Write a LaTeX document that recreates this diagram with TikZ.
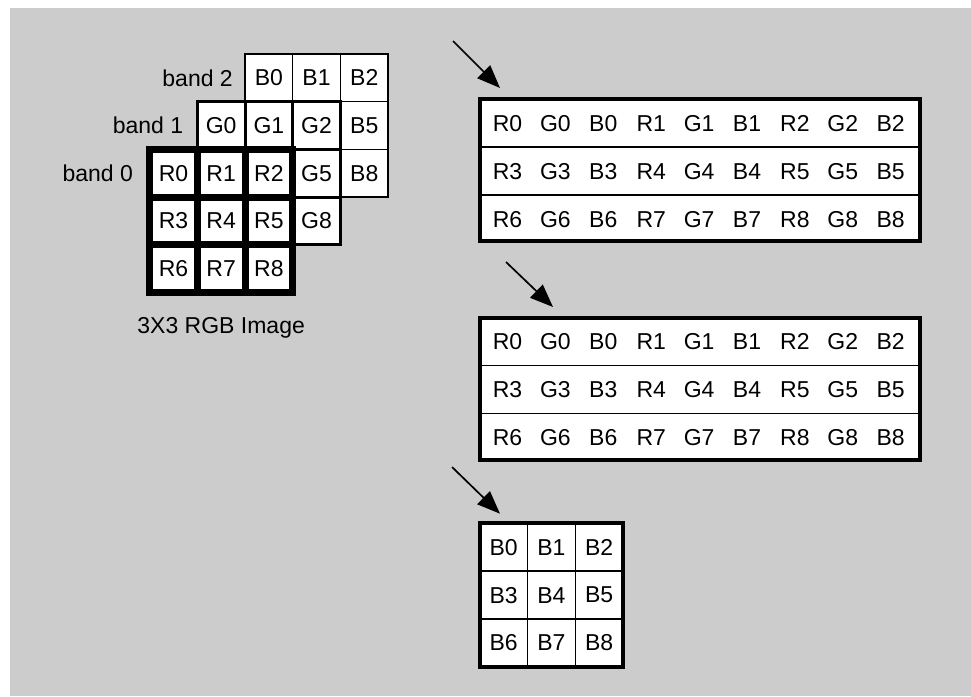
\documentclass[tikz,border=0pt]{standalone}
\usepackage{fontspec}
\setmainfont{Liberation Sans}
\usetikzlibrary{positioning,arrows.meta,calc}
\definecolor{bggray}{RGB}{204,204,204}

\begin{document}
\begin{tikzpicture}[
  x=1pt, y=-1pt,
  font=\fontsize{23}{27}\selectfont,
  cell/.style   = {draw=black, fill=white, minimum size=47.7pt, inner sep=0pt, outer sep=0pt},
  bcell/.style  = {cell, line width=1.5pt},
  gcell/.style  = {cell, line width=3pt},
  rcell/.style  = {cell, line width=7pt},
  ocell/.style  = {cell, minimum size=47.8pt, line width=1.5pt},
  band/.style   = {inner sep=0pt},
  strip/.style  = {draw=black, line width=4pt, fill=white, inner sep=0pt, outer sep=0pt,
                   minimum width=440pt, minimum height=142pt},
  token/.style  = {inner sep=0pt},
  sep/.style    = {line width=1.5pt},
  rim/.style    = {line width=4pt},
  arr/.style    = {-{Triangle[length=23pt,width=18pt]}, line width=1.7pt}]

\useasboundingbox (0,0) rectangle (971,696);
\fill[bggray] (10,8) rectangle (971,696);

% source image: three planes, band 2 at the back
\foreach \n/\col/\row in {0/0/0, 1/1/0, 2/2/0, 5/2/1, 8/2/2}
  \node[bcell] (b\n) at ({245+47.7*(\col+0.5)},{54+47.7*(\row+0.5)}) {B\n};
\foreach \n/\col/\row in {0/0/0, 1/1/0, 2/2/0, 5/2/1, 8/2/2}
  \node[gcell] (g\n) at ({197.3+47.7*(\col+0.5)},{101.7+47.7*(\row+0.5)}) {G\n};
\foreach \n/\col/\row in {0/0/0, 1/1/0, 2/2/0, 3/0/1, 4/1/1, 5/2/1, 6/0/2, 7/1/2, 8/2/2}
  \node[rcell] (r\n) at ({149.6+47.7*(\col+0.5)},{149.4+47.7*(\row+0.5)}) {R\n};

\node[band, left=12pt of b0]   (band2) {band 2};
\node[band, left=14pt of g0]   (band1) {band 1};
\node[band, left=16.5pt of r0] (band0) {band 0};
\node[band, below=24.5pt of r7] (caption) {3X3 RGB Image};

% pixel interleaved strips
\node[strip, anchor=north west] (strip1) at (479.7,99.3) {};
\node[strip, below=76.4pt of strip1] (strip2) {};

\foreach \s in {strip1,strip2} {
  \foreach \d in {47.7,95.7}
    \draw[sep] ($(\s.north west)+(0,\d)$) -- ($(\s.north east)+(0,\d)$);
  \foreach \row in {0,1,2}
    \foreach \i in {0,1,2}
      \foreach \ch/\col in {R/0,G/1,B/2} {
        \pgfmathtruncatemacro\pix{3*\row+\i}
        \node[token] (\s-\ch\pix) at ($(\s.north west)+({27.8+47.9*(3*\i+\col)},{24+48*\row})$) {\ch\pix};
      }
}

% band 2 taken out on its own
\coordinate (plane) at ($(strip2.south west)+(0,63.7)$);
\foreach \n/\col/\row in {0/0/0, 1/1/0, 2/2/0, 3/0/1, 4/1/1, 5/2/1, 6/0/2, 7/1/2, 8/2/2}
  \node[ocell] (o\n) at ($(plane)+({47.8*(\col+0.5)},{47.8*(\row+0.5)})$) {B\n};
\draw[rim] (o0.north west) rectangle (o8.south east);

% arrows
\coordinate (from1) at (453,41);
\coordinate (from2) at (506,262);
\coordinate (from3) at (452,467);
\draw[arr] (from1) -- ($(strip1.north west)+(20.3,-11.3)$);
\draw[arr] (from2) -- ($(strip2.north west)+(73.3,-10.7)$);
\draw[arr] (from3) -- ($(o0.north west)+(20.3,-9.7)$);

\end{tikzpicture}
\end{document}
